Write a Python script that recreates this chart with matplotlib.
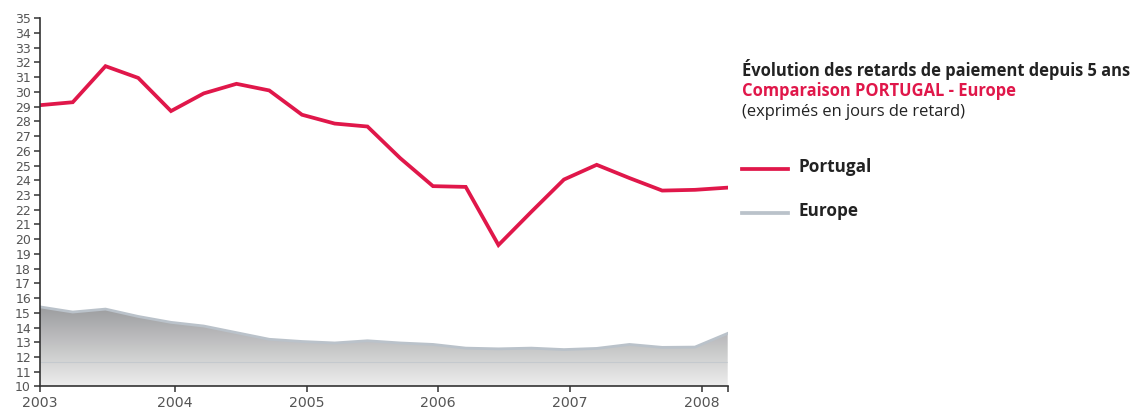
import numpy as np
import matplotlib.pyplot as plt
from matplotlib.colors import LinearSegmentedColormap

# quarterly observations, 2003 -> early 2008
portugal = [29.1, 29.3, 31.75, 30.95, 28.7, 29.9, 30.55, 30.1, 28.45, 27.85, 27.65,
            25.5, 23.6, 23.55, 19.6, 21.85, 24.05, 25.05, 24.15, 23.3, 23.35, 23.5]
europe = [15.4, 15.05, 15.25, 14.75, 14.35, 14.1, 13.65, 13.2, 13.05, 12.95, 13.1,
          12.95, 12.85, 12.6, 12.55, 12.6, 12.5, 12.58, 12.85, 12.65, 12.67, 13.6]
year_pos = [0, 4.13, 8.16, 12.16, 16.18, 20.21]
year_labels = ['2003', '2004', '2005', '2006', '2007', '2008']

red = '#e0174a'
edge = '#bac2ca'
x = np.arange(len(portugal))

fig = plt.figure(figsize=(11.36, 4.12), dpi=100)
ax = fig.add_axes([40/1136, 1 - 386.4/412, (727.7 - 40)/1136, (386.4 - 18.3)/412])

# europe: gradient filled area
poly = ax.fill_between(x, 10, europe, color='none', lw=0)
cmap = LinearSegmentedColormap.from_list('g', ['#ededed', '#98999b'])
grad = np.linspace(0, 1, 256).reshape(-1, 1)
img = ax.imshow(grad, cmap=cmap, origin='lower', aspect='auto',
                extent=[x[0], x[-1], 10, 15.6], zorder=1)
path = poly.get_paths()[0]
img.set_clip_path(path, transform=ax.transData)
hl = ax.axhline(11.65, color='#c4c9ce', lw=0.8, zorder=2)
hl.set_clip_path(path, transform=ax.transData)
ax.plot(x, europe, color=edge, lw=2.0, zorder=3, solid_joinstyle='round')

ax.plot(x, portugal, color=red, lw=2.7, zorder=4, solid_joinstyle='miter')

ax.set_xlim(0, x[-1])
ax.set_ylim(10, 35)
ax.set_yticks(range(10, 36))
ax.set_xticks(year_pos + [x[-1]])
ax.set_xticklabels(year_labels + [''])

for s in ['top', 'right']:
    ax.spines[s].set_visible(False)
for s in ['left', 'bottom']:
    ax.spines[s].set_color('#333333')
    ax.spines[s].set_linewidth(1.2)
    ax.spines[s].set_zorder(5)

ax.tick_params(axis='y', length=4.5, width=1.1, color='#333333', pad=2,
               labelsize=9, labelcolor='#555555')
ax.tick_params(axis='x', length=4.5, width=1.1, color='#333333', pad=2.5,
               labelsize=10.2, labelcolor='#555555')
for lab in ax.get_yticklabels() + ax.get_xticklabels():
    lab.set_family('Liberation Sans Narrow')

# title block and legend on the right
tf = 'Open Sans'
fig.text(742/1136, 1 - 70/412, 'Évolution des retards de paiement depuis 5 ans',
         fontsize=11.9, fontweight='bold', color='#222222', family=tf, va='center')
fig.text(742/1136, 1 - 91.5/412, 'Comparaison PORTUGAL - Europe',
         fontsize=11.9, fontweight='bold', color=red, family=tf, va='center')
fig.text(742/1136, 1 - 112/412, '(exprimés en jours de retard)',
         fontsize=11.9, color='#222222', family=tf, va='center')

fig.add_artist(plt.Line2D([742/1136, 788/1136], [1 - 169/412] * 2, color=red, lw=2.7))
fig.add_artist(plt.Line2D([742/1136, 788/1136], [1 - 212.5/412] * 2, color=edge, lw=2.7))
fig.text(799/1136, 1 - 167.5/412, 'Portugal', fontsize=12.3, fontweight='bold',
         color='#222222', family=tf, va='center')
fig.text(799/1136, 1 - 211/412, 'Europe', fontsize=12.3, fontweight='bold',
         color='#222222', family=tf, va='center')

fig.savefig('out.png', dpi=100)
